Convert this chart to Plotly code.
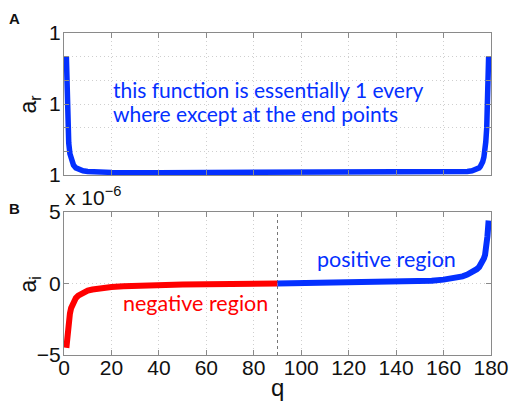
import plotly.graph_objects as go

# ---------------- data ----------------
# panel A: real part a_r = 1 + dev * 1e-7
q_r = [1, 1.2, 1.4, 1.6, 1.8, 2.0, 2.5, 3, 3.5, 4, 5, 6, 8, 10, 15, 20, 40, 60, 90,
       120, 140, 160, 165, 170, 172, 174, 175, 175.5, 176, 176.5, 177, 177.4, 177.8, 178.2, 178.6, 179]
dev_r = [5.0, 3.6, 2.7, 2.1, 1.7, 1.35, 0.9, 0.65, 0.5, 0.42, 0.3, 0.24, 0.18, 0.15, 0.12, 0.11, 0.1, 0.1, 0.1,
         0.1, 0.1, 0.11, 0.12, 0.15, 0.18, 0.24, 0.3, 0.36, 0.44, 0.56, 0.75, 1.0, 1.4, 2.0, 3.0, 5.0]
a_r = [1 + d * 1e-7 for d in dev_r]

# panel B: imaginary part a_i (x 1e-6)
q_neg = [1, 1.3, 1.6, 2, 2.5, 3, 4, 5, 6, 8, 10, 12, 15, 20, 25, 30, 40, 50, 60, 70, 80, 90]
ai_neg = [-4.5, -3.8, -3.3, -2.7, -2.1, -1.72, -1.28, -1.02, -0.85, -0.64, -0.5, -0.42, -0.33, -0.24,
          -0.19, -0.15, -0.1, -0.07, -0.045, -0.03, -0.015, 0.0]
q_pos = [90, 100, 110, 120, 130, 140, 150, 155, 160, 165, 168, 170, 172, 174, 175, 176, 177, 177.5, 178, 178.5, 179]
ai_pos = [0.0, 0.015, 0.03, 0.05, 0.08, 0.11, 0.16, 0.2, 0.27, 0.38, 0.5, 0.62, 0.78, 1.0, 1.15, 1.4, 1.75,
          2.0, 2.5, 3.3, 4.4]
ai_neg = [v * 1e-6 for v in ai_neg]
ai_pos = [v * 1e-6 for v in ai_pos]

split_q = 90
x_ticks = [0, 20, 40, 60, 80, 100, 120, 140, 160, 180]
r_ticks = [1 + k * 1e-7 for k in range(7)]
r_ticktext = ["1", "", "", "1", "", "", "1"]
i_ticks = [-5e-6, 0, 5e-6]
i_ticktext = ["\u22125", "0", "5"]

BLUE = "#0430ff"
RED = "#ff0000"
AX = "#8a8a8a"
GRID = "#cfcfcf"
NUMFONT = "Liberation Sans, Arial"
TICKFONT = dict(family=NUMFONT, size=21, color="#111")
TXTFONT = "Lato, Open Sans, sans-serif"

W, H = 521, 402
L, R, T, B = 64, 24, 33, 47
PW, PH = W - L - R, H - T - B


def px(x):
    return (x - L) / PW


def py(y):
    return (H - B - y) / PH


fig = go.Figure()
fig.add_trace(go.Scatter(x=q_r, y=a_r, mode="lines", line=dict(color=BLUE, width=5.5),
                         xaxis="x", yaxis="y", showlegend=False))
fig.add_trace(go.Scatter(x=q_neg, y=ai_neg, mode="lines", line=dict(color=RED, width=6),
                         xaxis="x2", yaxis="y2", showlegend=False))
fig.add_trace(go.Scatter(x=q_pos, y=ai_pos, mode="lines", line=dict(color=BLUE, width=6),
                         xaxis="x2", yaxis="y2", showlegend=False))

common_x = dict(range=[0, 180], tickvals=x_ticks, showgrid=True, gridcolor=GRID, griddash="1px,3px",
                gridwidth=1, showline=True, linecolor=AX, linewidth=1, mirror="ticks",
                ticks="inside", ticklen=5, tickcolor=AX, zeroline=False, tickfont=TICKFONT)
common_y = dict(showgrid=True, gridcolor=GRID, griddash="1px,3px", gridwidth=1, showline=True,
                linecolor=AX, linewidth=1, mirror="ticks", ticks="inside", ticklen=5,
                tickcolor=AX, zeroline=False, tickfont=TICKFONT, ticklabelstandoff=-2)

fig.update_layout(
    width=W, height=H, margin=dict(l=L, r=R, t=T, b=B),
    paper_bgcolor="white", plot_bgcolor="white",
    xaxis=dict(common_x, domain=[0, 1], anchor="y", showticklabels=False),
    yaxis=dict(common_y, domain=[py(175), 1], anchor="x", range=[r_ticks[0], r_ticks[-1]],
               tickvals=r_ticks, ticktext=r_ticktext),
    xaxis2=dict(common_x, domain=[0, 1], anchor="y2", ticklabelstandoff=-6),
    yaxis2=dict(common_y, domain=[0, py(212)], anchor="x2", range=[-5e-6, 5e-6],
                tickvals=i_ticks, ticktext=i_ticktext),
)

fig.add_shape(type="line", xref="x2", yref="y2", x0=split_q, x1=split_q, y0=-5e-6, y1=5e-6,
              line=dict(color="#777", width=1, dash="3px,3px"), layer="below")

ann = []
ann.append(dict(text="<b>A</b>", x=px(14), y=py(18), font=dict(family="Liberation Sans", size=15, color="#111")))
ann.append(dict(text="<b>B</b>", x=px(14), y=py(208), font=dict(family="Liberation Sans", size=15, color="#111")))
ann.append(dict(text="a<sub>r</sub>", x=px(29), y=py(104), textangle=-90,
                font=dict(family="Liberation Sans", size=23, color="#111")))
ann.append(dict(text="a<sub>i</sub>", x=px(29), y=py(284), textangle=-90,
                font=dict(family="Liberation Sans", size=23, color="#111")))
ann.append(dict(text="q", x=px(280), y=py(387), font=dict(family="Liberation Sans", size=24, color="#111")))
ann.append(dict(text="x 10<sup>\u22126</sup>", x=px(63), y=py(196), xanchor="left",
                font=dict(family=NUMFONT, size=21, color="#111")))
ann.append(dict(text="this function is essentially 1 every", x=px(112), y=py(90), xanchor="left",
                font=dict(family=TXTFONT, size=21, color=BLUE)))
ann.append(dict(text="where except at the end points", x=px(112), y=py(113), xanchor="left",
                font=dict(family=TXTFONT, size=21, color=BLUE)))
ann.append(dict(text="negative region", x=px(197), y=py(303),
                font=dict(family=TXTFONT, size=21.5, color=RED)))
ann.append(dict(text="positive region", x=px(391), y=py(259),
                font=dict(family=TXTFONT, size=21.5, color=BLUE)))
for a in ann:
    a.setdefault("xanchor", "center")
    a.update(xref="paper", yref="paper", yanchor="middle", showarrow=False)
fig.update_layout(annotations=ann)

fig.write_html("out.html", config={"displayModeBar": False},
               post_script="document.body.style.margin='0';document.body.style.overflow='hidden';")
